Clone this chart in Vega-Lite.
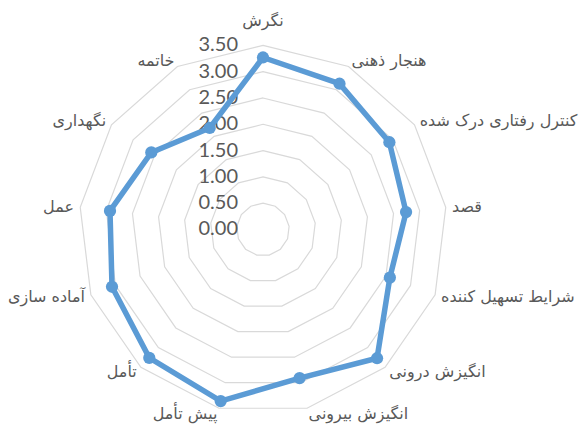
{
  "$schema": "https://vega.github.io/schema/vega-lite/v6.json",
  "width": 580,
  "height": 428,
  "autosize": {"type": "fit", "contains": "padding"},
  "padding": 0,
  "background": "white",
  "config": {"view": {"stroke": null}},
  "datasets": {
    "scores": [
      {"category": "نگرش", "idx": 0, "value": 3.27},
      {"category": "هنجار ذهنی", "idx": 1, "value": 3.13},
      {"category": "کنترل رفتاری درک شده", "idx": 2, "value": 2.92},
      {"category": "قصد", "idx": 3, "value": 2.74},
      {"category": "شرایط تسهیل کننده", "idx": 4, "value": 2.58},
      {"category": "انگیزش درونی", "idx": 5, "value": 3.27},
      {"category": "انگیزش بیرونی", "idx": 6, "value": 2.91},
      {"category": "پیش تأمل", "idx": 7, "value": 3.36},
      {"category": "تأمل", "idx": 8, "value": 3.26},
      {"category": "آماده سازی", "idx": 9, "value": 3.07},
      {"category": "عمل", "idx": 10, "value": 2.93},
      {"category": "نگهداری", "idx": 11, "value": 2.58},
      {"category": "خاتمه", "idx": 12, "value": 2.18}
    ],
    "levels": [
      {"level": 0, "spoke": [0,1,2,3,4,5,6,7,8,9,10,11,12]},
      {"level": 0.5, "spoke": [0,1,2,3,4,5,6,7,8,9,10,11,12]},
      {"level": 1, "spoke": [0,1,2,3,4,5,6,7,8,9,10,11,12]},
      {"level": 1.5, "spoke": [0,1,2,3,4,5,6,7,8,9,10,11,12]},
      {"level": 2, "spoke": [0,1,2,3,4,5,6,7,8,9,10,11,12]},
      {"level": 2.5, "spoke": [0,1,2,3,4,5,6,7,8,9,10,11,12]},
      {"level": 3, "spoke": [0,1,2,3,4,5,6,7,8,9,10,11,12]},
      {"level": 3.5, "spoke": [0,1,2,3,4,5,6,7,8,9,10,11,12]}
    ]
  },
  "layer": [
    {
      "data": {"name": "levels"},
      "transform": [
        {"filter": "datum.level > 0"},
        {"flatten": ["spoke"]},
        {"calculate": "datum.spoke * 2 * PI / 13", "as": "theta"},
        {"calculate": "datum.level * sin(datum.theta)", "as": "px"},
        {"calculate": "datum.level * cos(datum.theta)", "as": "py"}
      ],
      "mark": {"type": "line", "interpolate": "linear-closed", "stroke": "#d9d9d9", "strokeWidth": 1.2},
      "encoding": {
        "x": {"field": "px", "type": "quantitative", "scale": {"domain": [-5.0, 6.027], "nice": false, "zero": false}, "axis": null},
        "y": {"field": "py", "type": "quantitative", "scale": {"domain": [-3.774, 4.363], "nice": false, "zero": false}, "axis": null},
        "detail": {"field": "level", "type": "nominal"},
        "order": {"field": "spoke", "type": "quantitative"}
      }
    },
    {
      "data": {"name": "levels"},
      "transform": [
        {"calculate": "0", "as": "px"},
        {"calculate": "datum.level", "as": "py"}
      ],
      "mark": {"type": "text", "align": "right", "baseline": "middle", "dx": -25, "font": "Lato", "fontSize": 20, "color": "#595959"},
      "encoding": {
        "x": {"field": "px", "type": "quantitative", "scale": {"domain": [-5.0, 6.027], "nice": false, "zero": false}, "axis": null},
        "y": {"field": "py", "type": "quantitative", "scale": {"domain": [-3.774, 4.363], "nice": false, "zero": false}, "axis": null},
        "text": {"field": "level", "type": "quantitative", "format": ".2f"}
      }
    },
    {
      "data": {"name": "scores"},
      "transform": [
        {"calculate": "datum.idx * 2 * PI / 13", "as": "theta"},
        {"calculate": "datum.value * sin(datum.theta)", "as": "px"},
        {"calculate": "datum.value * cos(datum.theta)", "as": "py"}
      ],
      "mark": {"type": "line", "interpolate": "linear-closed", "stroke": "#5B9BD5", "strokeWidth": 5.5},
      "encoding": {
        "x": {"field": "px", "type": "quantitative", "scale": {"domain": [-5.0, 6.027], "nice": false, "zero": false}, "axis": null},
        "y": {"field": "py", "type": "quantitative", "scale": {"domain": [-3.774, 4.363], "nice": false, "zero": false}, "axis": null},
        "order": {"field": "idx", "type": "quantitative"}
      }
    },
    {
      "data": {"name": "scores"},
      "transform": [
        {"calculate": "datum.idx * 2 * PI / 13", "as": "theta"},
        {"calculate": "datum.value * sin(datum.theta)", "as": "px"},
        {"calculate": "datum.value * cos(datum.theta)", "as": "py"}
      ],
      "mark": {"type": "circle", "size": 150, "opacity": 1, "color": "#5B9BD5"},
      "encoding": {
        "x": {"field": "px", "type": "quantitative", "scale": {"domain": [-5.0, 6.027], "nice": false, "zero": false}, "axis": null},
        "y": {"field": "py", "type": "quantitative", "scale": {"domain": [-3.774, 4.363], "nice": false, "zero": false}, "axis": null}
      }
    },
    {
      "data": {"name": "scores"},
      "transform": [
        {"filter": "datum.idx >= 1 && datum.idx <= 6"},
        {"calculate": "datum.idx * 2 * PI / 13", "as": "theta"},
        {"calculate": "3.62 * sin(datum.theta)", "as": "px"},
        {"calculate": "3.62 * cos(datum.theta)", "as": "py"}
      ],
      "mark": {"type": "text", "align": "left", "baseline": "middle", "font": "DejaVu Sans", "fontSize": 16, "color": "#595959"},
      "encoding": {
        "x": {"field": "px", "type": "quantitative", "scale": {"domain": [-5.0, 6.027], "nice": false, "zero": false}, "axis": null},
        "y": {"field": "py", "type": "quantitative", "scale": {"domain": [-3.774, 4.363], "nice": false, "zero": false}, "axis": null},
        "text": {"field": "category"}
      }
    },
    {
      "data": {"name": "scores"},
      "transform": [
        {"filter": "datum.idx >= 7"},
        {"calculate": "datum.idx * 2 * PI / 13", "as": "theta"},
        {"calculate": "3.62 * sin(datum.theta)", "as": "px"},
        {"calculate": "3.62 * cos(datum.theta)", "as": "py"}
      ],
      "mark": {"type": "text", "align": "right", "baseline": "middle", "font": "DejaVu Sans", "fontSize": 16, "color": "#595959"},
      "encoding": {
        "x": {"field": "px", "type": "quantitative", "scale": {"domain": [-5.0, 6.027], "nice": false, "zero": false}, "axis": null},
        "y": {"field": "py", "type": "quantitative", "scale": {"domain": [-3.774, 4.363], "nice": false, "zero": false}, "axis": null},
        "text": {"field": "category"}
      }
    },
    {
      "data": {"name": "scores"},
      "transform": [
        {"filter": "datum.idx == 0"},
        {"calculate": "0", "as": "px"},
        {"calculate": "3.62", "as": "py"}
      ],
      "mark": {"type": "text", "align": "center", "baseline": "middle", "dy": -18, "font": "DejaVu Sans", "fontSize": 16, "color": "#595959"},
      "encoding": {
        "x": {"field": "px", "type": "quantitative", "scale": {"domain": [-5.0, 6.027], "nice": false, "zero": false}, "axis": null},
        "y": {"field": "py", "type": "quantitative", "scale": {"domain": [-3.774, 4.363], "nice": false, "zero": false}, "axis": null},
        "text": {"field": "category"}
      }
    }
  ]
}
